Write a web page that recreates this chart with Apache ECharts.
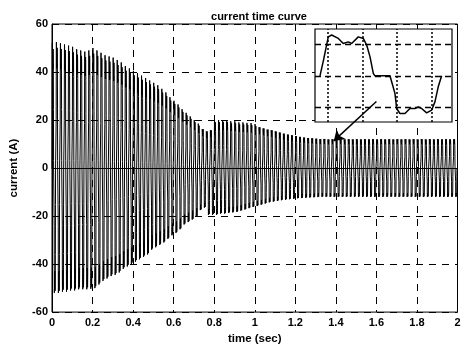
<!DOCTYPE html>
<html><head><meta charset="utf-8">
<script src="https://cdn.jsdelivr.net/npm/echarts@6/dist/echarts.min.js"></script>
<style>html,body{margin:0;padding:0;background:#fff}#c{width:469px;height:350px}</style>
</head><body><div id="c"></div>
<script>
// ---- data ----
const cyclePeriod = 0.02; // s (50 Hz)
// positive peak of each cycle (A)
const posPeak = [
 52, 52.5, 52, 51.5, 51, 50.5, 49.5, 49, 48.5, 49,
 50, 49, 48, 47, 46.5, 46, 45, 44, 42.5, 41.5,
 40.5, 39.5, 38.5, 37.5, 36.5, 35.5, 34.5, 33, 31.5, 29.5,
 28, 26.5, 24.5, 23, 21.5, 20, 18.5, 17, 16, 16.5,
 20, 20, 20, 20, 19.5, 19.5, 19, 19, 18.8, 18.7,
 18.3, 17.8, 17.3, 16.8, 16.5, 16, 15.5, 15, 14.6, 14.3,
 14, 13.6, 13.3, 13.1, 13, 12.8, 12.6, 12.7, 12.5, 12.6,
 12.5, 12.6, 12.5, 12.6, 12.5, 12.6, 12.5, 12.6, 12.5, 12.6,
 12.5, 12.6, 12.5, 12.6, 12.5, 12.6, 12.5, 12.6, 12.5, 12.6,
 12.5, 12.6, 12.5, 12.6, 12.5, 12.6, 12.5, 12.6, 12.5, 12.6
];
// negative peak of each cycle (A)
const negPeak = [
 -52, -52, -51.5, -51.5, -51, -51, -50.5, -50.5, -50.5, -50.3,
 -50, -48.5, -47, -46, -45, -44.5, -43.5, -42, -41, -40,
 -39, -38, -37, -36, -34, -33, -32, -31, -29.5, -28,
 -27, -25.5, -23.5, -22.5, -21.5, -20.3, -17.5, -16.5, -19.5, -19.5,
 -19.5, -19, -19, -18.7, -18.5, -18.3, -17.8, -17.3, -16.7, -16.2,
 -15.8, -15.3, -14.8, -14.3, -14, -13.7, -13.4, -13.2, -13, -12.8,
 -12.6, -12.5, -12.4, -12.3, -12.2, -12.1, -12, -12, -12, -12,
 -12, -12, -12, -12, -12, -12, -12, -12, -12, -12,
 -12, -12, -12, -12, -12, -12, -12, -12, -12, -12,
 -12, -12, -12, -12, -12, -12, -12, -12, -12, -12
];
// one cycle of the waveform, as drawn in the inset (time in ms, value in grid units)
const shapeT = [-1.16, -0.65, 0.04, 0.53, 1.49, 2.21, 2.93, 3.42, 4.38, 5.10, 5.59, 6.07, 6.55, 6.79,
  8.96, 9.68, 9.93, 10.40, 11.13, 11.85, 12.57, 13.05, 13.54, 14.26, 14.99, 15.46, 15.94, 16.43];
const shapeV = [0, 0.5, 1.24, 1.30, 1.19, 1.03, 1.08, 1.03, 1.24, 1.19, 0.98, 0.61, 0.08, 0,
  0, -0.56, -1.04, -1.20, -1.20, -1.04, -1.04, -0.99, -1.04, -1.18, -1.09, -0.83, -0.35, 0];
const xTickLabels = ['0','0.2','0.4','0.6','0.8','1','1.2','1.4','1.6','1.8','2'];
const yTickLabels = ['-60','-40','-20','0','20','40','60'];
const insetHLines = [-1, 0, 1];
const insetVLines = [0, 5, 10, 15];
const arrowFrom = [1.6, 27.7];
const arrowTo = [1.39, 11.3];

// ---- build series ----
const posMax = Math.max(...shapeV), negMin = Math.min(...shapeV);
const mainData = [];
for (let k = 0; k < posPeak.length; k++) {
  const t0 = k * cyclePeriod;
  for (let i = 0; i < shapeT.length; i++) {
    const v = shapeV[i];
    const a = v >= 0 ? v / posMax * posPeak[k] : v / negMin * negPeak[k];
    mainData.push([t0 + (shapeT[i] - shapeT[0]) / 1000, a]);
  }
}
const insetData = shapeT.map((t, i) => [t, shapeV[i]]);

const font = 'Liberation Sans, Arial, Helvetica, sans-serif';
const chart = echarts.init(document.getElementById('c'), null, {renderer: 'canvas'});
chart.setOption({
  animation: false,
  backgroundColor: '#fff',
  title: {
    text: 'current time curve', left: 254, top: 6, textAlign: 'center',
    textStyle: {fontFamily: font, fontSize: 11, fontWeight: 'bold', color: '#000'}
  },
  grid: [
    {left: 52, top: 24, right: 11.5, bottom: 33.3, show: true, borderColor: '#000', borderWidth: 1, backgroundColor: 'transparent', z: 1},
    {left: 315, top: 29, width: 137, height: 93, show: true, borderColor: '#000', borderWidth: 1.2, backgroundColor: '#fff', z: 3}
  ],
  xAxis: [
    {gridIndex: 0, type: 'value', min: 0, max: 2, interval: 0.2,
      name: 'time (sec)', nameLocation: 'middle', nameGap: 14,
      nameTextStyle: {fontFamily: font, fontSize: 11.5, fontWeight: 'bold', color: '#000'},
      axisLine: {show: true, lineStyle: {color: '#000'}}, axisTick: {show: false},
      axisLabel: {margin: 5, fontFamily: font, fontSize: 11, fontWeight: 'bold', color: '#000',
        formatter: v => xTickLabels[Math.round(v / 0.2)]},
      splitLine: {show: true, lineStyle: {color: '#000', type: [7, 6], width: 1}}},
    {gridIndex: 1, type: 'value', min: -1.88, max: 17.93, show: false, z: 4}
  ],
  yAxis: [
    {gridIndex: 0, type: 'value', min: -60, max: 60, interval: 20,
      name: 'current (A)', nameLocation: 'middle', nameGap: 32, nameRotate: 90,
      nameTextStyle: {fontFamily: font, fontSize: 11.5, fontWeight: 'bold', color: '#000'},
      axisLine: {show: true, lineStyle: {color: '#000'}}, axisTick: {show: false},
      axisLabel: {margin: 4, fontFamily: font, fontSize: 11, fontWeight: 'bold', color: '#000',
        formatter: v => yTickLabels[Math.round((v + 60) / 20)]},
      splitLine: {show: true, lineStyle: {color: '#000', type: [7, 6], width: 1}}},
    {gridIndex: 1, type: 'value', min: -1.47, max: 1.49, show: false, z: 4}
  ],
  series: [
    {type: 'line', xAxisIndex: 0, yAxisIndex: 0, data: mainData, showSymbol: false,
      sampling: false, lineStyle: {color: '#000', width: 1}, z: 2, silent: true},
    {type: 'line', xAxisIndex: 1, yAxisIndex: 1, data: insetData, showSymbol: false,
      lineStyle: {color: '#000', width: 1.5}, z: 6, silent: true,
      markLine: {silent: true, symbol: 'none', label: {show: false}, animation: false,
        data: insetHLines.map(y => ({yAxis: y, lineStyle: {color: '#000', type: [6, 4], width: 1.3}}))
          .concat(insetVLines.map(x => ({xAxis: x, lineStyle: {color: '#000', type: [2, 2], width: 1.5}})))}},
    {type: 'lines', coordinateSystem: 'cartesian2d', xAxisIndex: 0, yAxisIndex: 0, z: 10,
      symbol: ['none', 'arrow'], symbolSize: 10,
      lineStyle: {color: '#000', width: 1.5, opacity: 1},
      data: [{coords: [arrowFrom, arrowTo]}]}
  ]
});
</script>
</body></html>
